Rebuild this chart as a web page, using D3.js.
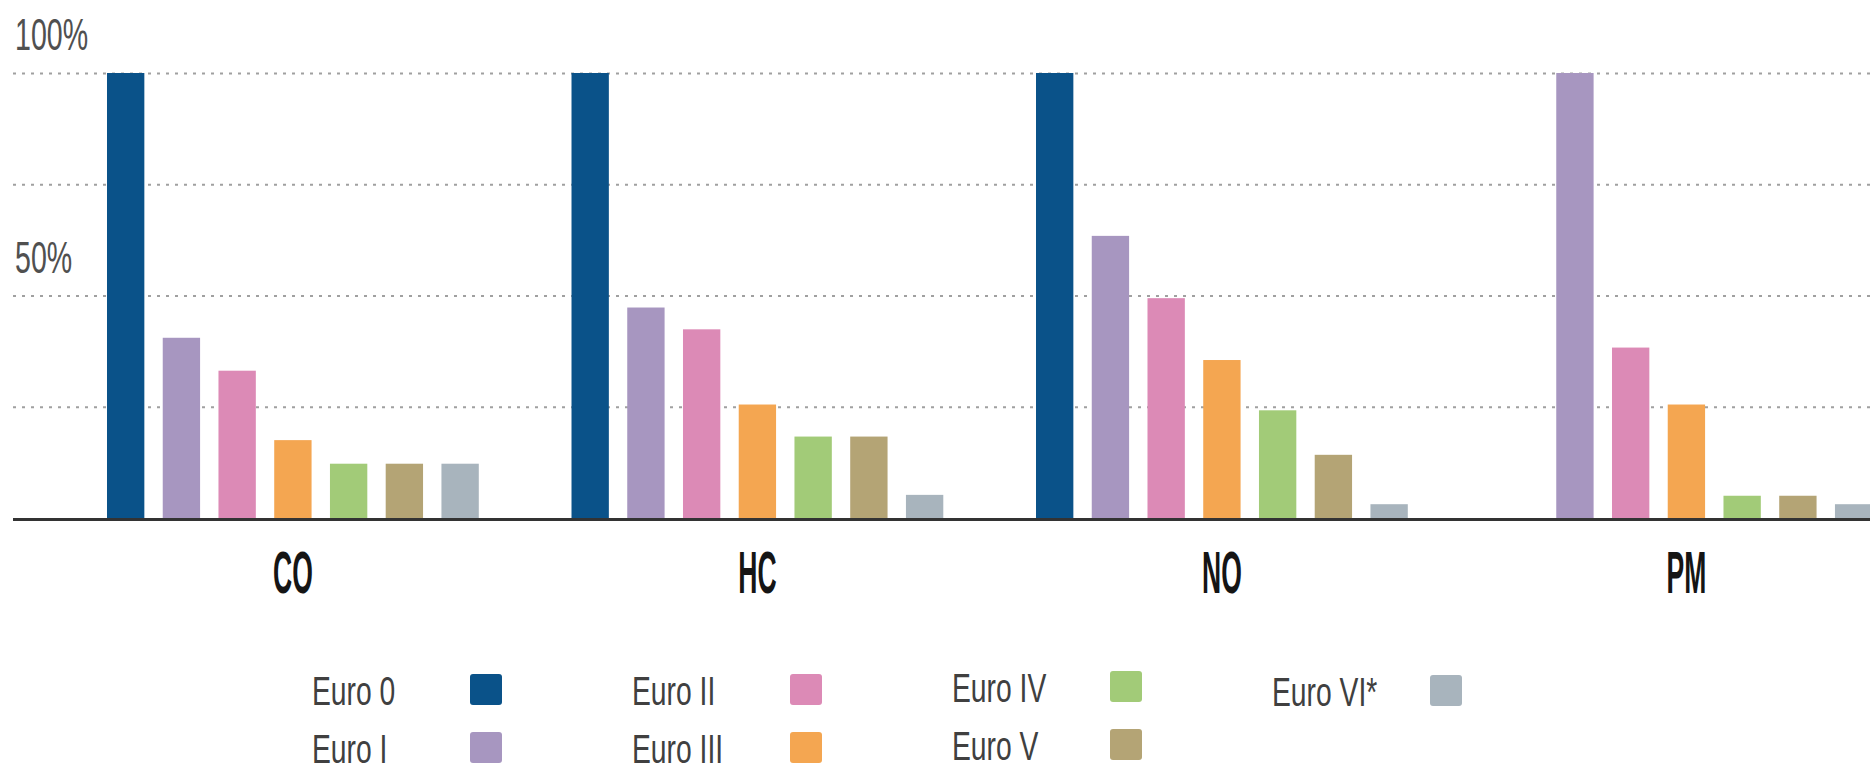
<!DOCTYPE html>
<html>
<head>
<meta charset="utf-8">
<script src="https://cdn.jsdelivr.net/npm/d3@7"></script>
<style>
  html, body { margin: 0; padding: 0; background: #ffffff; }
  svg { display: block; }
</style>
</head>
<body>
<svg id="chart" width="1870" height="771"></svg>
<script>
// ---- data ----
const categories = ["CO", "HC", "NO", "PM"];
const seriesNames = ["Euro 0", "Euro I", "Euro II", "Euro III", "Euro IV", "Euro V", "Euro VI*"];
const valuesCO = [100, 40.5, 33.1, 17.5, 12.2, 12.2, 12.2];
const valuesHC = [100, 47.3, 42.4, 25.5, 18.3, 18.3, 5.2];
const valuesNO = [100, 63.4, 49.4, 35.5, 24.2, 14.2, 3.1];
const valuesPM = [0, 100, 38.3, 25.5, 5.0, 5.0, 3.1];
const gridTicks = [25, 50, 75, 100];
const labelTicks = [50, 100];
const tickLabel = v => v + "%";
const seriesColors = ["#0a5289", "#a796c0", "#dc8ab6", "#f4a651", "#a2cb78", "#b4a475", "#a8b4bd"];

const valuesByCategory = { CO: valuesCO, HC: valuesHC, NO: valuesNO, PM: valuesPM };

// ---- layout ----
const W = 1870, H = 771;
const svg = d3.select("#chart");
const FONT = "'Liberation Sans', Arial, sans-serif";

const y = d3.scaleLinear().domain([0, 100]).range([518, 73]);

const x0 = d3.scaleBand()
  .domain(categories)
  .range([97.8, 1881.5])
  .paddingInner(0.16)
  .paddingOuter(0);

const x1 = d3.scaleBand()
  .domain(seriesNames)
  .range([0, x0.bandwidth()])
  .paddingInner(0.33)
  .paddingOuter(0.165);

const color = d3.scaleOrdinal().domain(seriesNames).range(seriesColors);

// gridlines (dotted) via axis
const grid = svg.append("g")
  .attr("class", "grid")
  .attr("transform", `translate(${W},0)`)
  .call(d3.axisLeft(y).tickValues(gridTicks).tickSize(W - 8).tickFormat(""));
grid.select(".domain").remove();
grid.selectAll(".tick line")
  .attr("stroke", "#a0a0a0")
  .attr("stroke-width", 2)
  .attr("stroke-dasharray", "3,6");

// y labels
svg.append("g").selectAll("text")
  .data(labelTicks)
  .join("text")
  .attr("transform", d => `translate(15,${y(d) - 23}) scale(0.65,1)`)
  .attr("font-family", FONT)
  .attr("font-size", 44)
  .attr("fill", "#505050")
  .text(tickLabel);

// bars
const groups = svg.append("g").selectAll("g")
  .data(categories)
  .join("g")
  .attr("transform", c => `translate(${x0(c)},0)`);

groups.selectAll("rect")
  .data(c => seriesNames.map((s, i) => ({ s, v: valuesByCategory[c][i] })).filter(d => d.v > 0))
  .join("rect")
  .attr("x", d => x1(d.s))
  .attr("width", x1.bandwidth())
  .attr("y", d => y(d.v))
  .attr("height", d => y(0) - y(d.v))
  .attr("fill", d => color(d.s));

// baseline
svg.append("line")
  .attr("x1", 13).attr("x2", W)
  .attr("y1", y(0) + 1.5).attr("y2", y(0) + 1.5)
  .attr("stroke", "#333333")
  .attr("stroke-width", 3);

// category labels
svg.append("g").selectAll("text")
  .data(categories)
  .join("text")
  .attr("transform", c => `translate(${x0(c) + x0.bandwidth() / 2},593) scale(0.45,1)`)
  .attr("text-anchor", "middle")
  .attr("font-family", FONT)
  .attr("font-weight", "bold")
  .attr("font-size", 59)
  .attr("fill", "#151515")
  .text(c => c);

// legend
const colStep = 320, textX0 = 312, swatchDx = 158;
const rowY = [705, 763];
const colYOffset = [0, 0, -3, 1];
const legend = svg.append("g").selectAll("g")
  .data(seriesNames)
  .join("g")
  .attr("transform", (s, i) => {
    const col = Math.floor(i / 2), row = i % 2;
    return `translate(${textX0 + col * colStep},${rowY[row] + colYOffset[col]})`;
  });

legend.append("text")
  .attr("transform", "scale(0.69,1)")
  .attr("font-family", FONT)
  .attr("font-size", 41)
  .attr("fill", "#404040")
  .text(s => s);

legend.append("rect")
  .attr("x", swatchDx)
  .attr("y", -31)
  .attr("width", 32)
  .attr("height", 31)
  .attr("rx", 3)
  .attr("fill", s => color(s));
</script>
</body>
</html>
